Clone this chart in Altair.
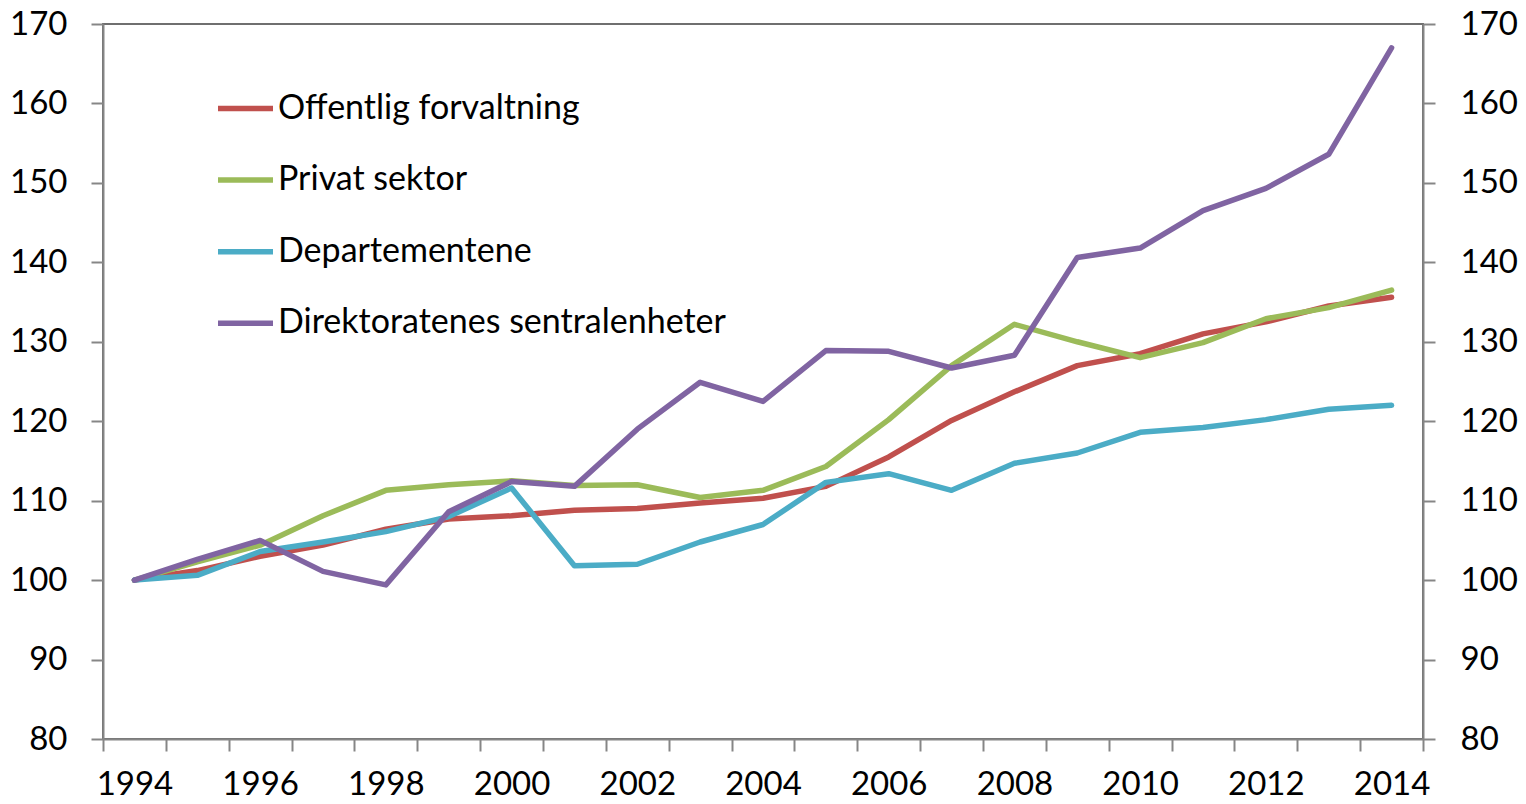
import altair as alt
import pandas as pd

years = list(range(1994, 2015))
series_names = [
    "Offentlig forvaltning",
    "Privat sektor",
    "Departementene",
    "Direktoratenes sentralenheter",
]
offentlig = [100, 101.2, 103.0, 104.4, 106.4, 107.7, 108.1, 108.8, 109.0, 109.7, 110.3,
             111.8, 115.5, 120.1, 123.7, 127.0, 128.5, 131.0, 132.5, 134.5, 135.6]
privat = [100, 102.3, 104.4, 108.1, 111.3, 112.0, 112.5, 111.9, 112.0, 110.4, 111.3,
          114.3, 120.2, 127.0, 132.2, 130.0, 128.0, 129.9, 132.9, 134.3, 136.5]
departementene = [100, 100.6, 103.6, 104.8, 106.1, 108.0, 111.6, 101.8, 102.0, 104.8, 107.0,
                  112.3, 113.4, 111.3, 114.7, 116.0, 118.6, 119.2, 120.2, 121.5, 122.0]
direktoratene = [100, 102.6, 105.0, 101.1, 99.4, 108.6, 112.4, 111.8, 119.0, 124.9, 122.5,
                 128.9, 128.8, 126.7, 128.3, 140.6, 141.8, 146.5, 149.3, 153.6, 167.0]
colors = ["#C0504D", "#9BBB59", "#4BACC6", "#8064A2"]
y_ticks = [80, 90, 100, 110, 120, 130, 140, 150, 160, 170]

rows = []
for name, vals in zip(series_names, [offentlig, privat, departementene, direktoratene]):
    for yr, v in zip(years, vals):
        rows.append({"year": yr, "series": name, "value": v})
df = pd.DataFrame(rows)

FONT = "Lato"
AXIS_COLOR = "#868686"
common_axis = dict(
    labelFont=FONT,
    labelFontSize=33,
    labelColor="#000000",
    domainColor=AXIS_COLOR,
    domainWidth=2,
    tickColor=AXIS_COLOR,
    tickWidth=2,
    tickSize=12,
    grid=False,
    title=None,
)

x_enc = alt.X(
    "year:O",
    scale=alt.Scale(type="band", paddingInner=0, paddingOuter=0),
    sort=years,
    axis=alt.Axis(
        tickBand="extent",
        labelExpr="datum.value % 2 == 0 ? datum.label : ''",
        labelAngle=0,
        labelOverlap=False,
        labelPadding=17,
        **common_axis,
    ),
)

y_scale = alt.Scale(domain=[80, 170], nice=False, zero=False)

lines = alt.Chart(df).mark_line(strokeWidth=5.5, strokeCap="round", strokeJoin="round").encode(
    x=x_enc,
    y=alt.Y(
        "value:Q",
        scale=y_scale,
        axis=alt.Axis(values=y_ticks, orient="left", labelPadding=24, **common_axis),
    ),
    color=alt.Color(
        "series:N",
        scale=alt.Scale(domain=series_names, range=colors),
        sort=series_names,
        legend=alt.Legend(
            title=None,
            orient="none",
            legendX=112,
            legendY=54,
            symbolType="stroke",
            symbolStrokeWidth=5.5,
            symbolSize=3025,
            labelOffset=2,
            rowPadding=23.6,
            padding=0,
            labelFont=FONT,
            labelFontSize=34,
            labelColor="#000000",
            labelLimit=1000,
        ),
    ),
    order=alt.Order("year:O"),
)

right = alt.Chart(df).mark_line(strokeOpacity=0).encode(
    x=x_enc,
    y=alt.Y(
        "value:Q",
        scale=y_scale,
        axis=alt.Axis(values=y_ticks, orient="right", labelPadding=25, **common_axis),
    ),
    detail="series:N",
)

chart = (
    alt.layer(lines, right)
    .resolve_scale(y="shared")
    .resolve_axis(y="independent")
    .properties(
        width=1320,
        height=715,
        background="#ffffff",
        autosize=alt.AutoSizeParams(type="none"),
        padding={"left": 95, "top": 16, "right": 95, "bottom": 65},
    )
    .configure_view(stroke="#6f6f6f", strokeWidth=2)
)

chart.save("out.html", embed_options={"renderer": "svg", "actions": False})
